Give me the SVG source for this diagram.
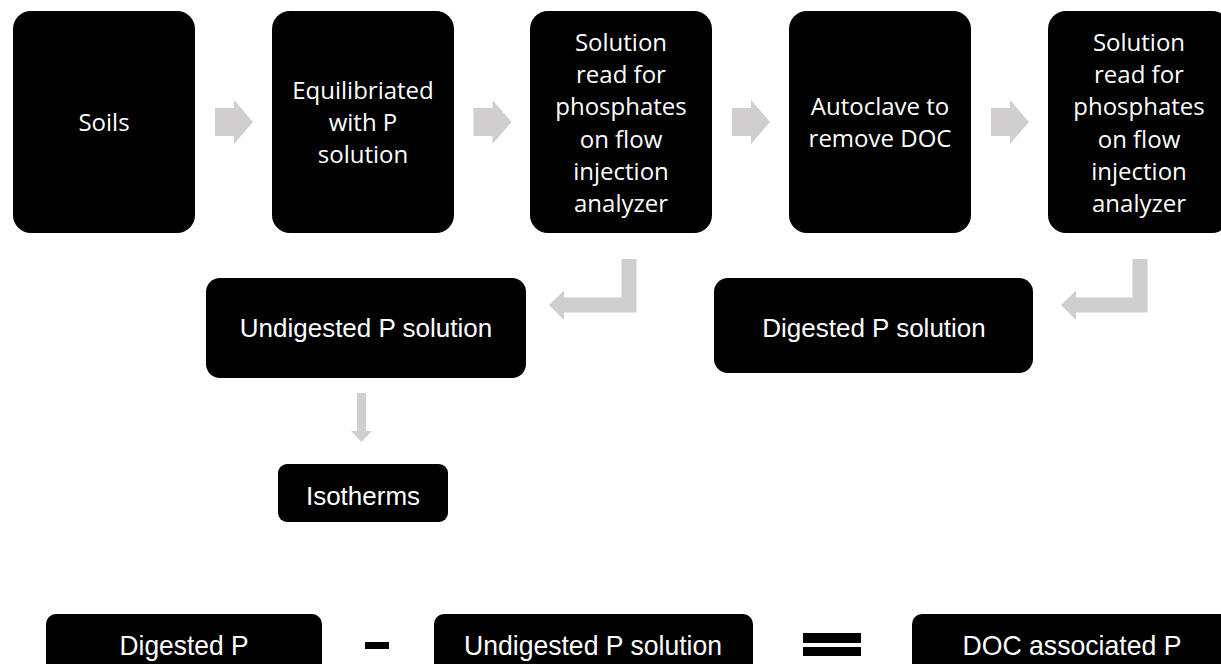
<svg xmlns="http://www.w3.org/2000/svg" width="1221" height="664" viewBox="0 0 1221 664">
<style>
.box{fill:#000000}
.t1{font-family:"Open Sans","Noto Sans",sans-serif;font-size:24px;fill:#ffffff;text-anchor:middle}
.t2{font-family:"Liberation Sans",Arial,sans-serif;font-size:26px;fill:#ffffff;text-anchor:middle}
.t3{font-family:"Liberation Sans",Arial,sans-serif;font-size:28px;fill:#ffffff;text-anchor:middle}
.arr{fill:#d0cece}
</style>
<rect width="1221" height="664" fill="#ffffff"/>
<g id="soils"><rect class="box" x="13" y="11" width="182" height="222" rx="18"/><text class="t1" x="104" y="131">Soils</text></g>
<g id="equilibriated"><rect class="box" x="272" y="11" width="182" height="222" rx="18"/><text class="t1" x="363"><tspan x="363" y="99">Equilibriated</tspan><tspan x="363" y="131">with P</tspan><tspan x="363" y="163">solution</tspan></text></g>
<g id="read1"><rect class="box" x="530" y="11" width="182" height="222" rx="18"/><text class="t1"><tspan x="621" y="51">Solution</tspan><tspan x="621" y="83">read for</tspan><tspan x="621" y="115">phosphates</tspan><tspan x="621" y="148">on flow</tspan><tspan x="621" y="180">injection</tspan><tspan x="621" y="212">analyzer</tspan></text></g>
<g id="autoclave"><rect class="box" x="789" y="11" width="182" height="222" rx="18"/><text class="t1"><tspan x="880" y="115">Autoclave to</tspan><tspan x="880" y="147">remove DOC</tspan></text></g>
<g id="read2"><rect class="box" x="1048" y="11" width="182" height="222" rx="18"/><text class="t1"><tspan x="1139" y="51">Solution</tspan><tspan x="1139" y="83">read for</tspan><tspan x="1139" y="115">phosphates</tspan><tspan x="1139" y="148">on flow</tspan><tspan x="1139" y="180">injection</tspan><tspan x="1139" y="212">analyzer</tspan></text></g>
<g id="undigested"><rect class="box" x="206" y="278" width="320" height="100" rx="14"/><text class="t2" x="366" y="337">Undigested P solution</text></g>
<g id="digested"><rect class="box" x="714" y="278" width="319" height="95" rx="14"/><text class="t2" x="874" y="337">Digested P solution</text></g>
<g id="isotherms"><rect class="box" x="278" y="464" width="170" height="58" rx="9"/><text class="t2" x="363" y="505">Isotherms</text></g>
<g id="eq-digested"><rect class="box" x="46" y="614" width="276" height="70" rx="10"/><text class="t3" x="184" y="655" textLength="129" lengthAdjust="spacingAndGlyphs">Digested P</text></g>
<g id="eq-minus"><rect class="box" x="365" y="642" width="24" height="7"/></g>
<g id="eq-undigested"><rect class="box" x="434" y="614" width="319" height="70" rx="10"/><text class="t3" x="593" y="655" textLength="258" lengthAdjust="spacingAndGlyphs">Undigested P solution</text></g>
<g id="eq-equals"><rect class="box" x="803" y="633" width="58" height="10"/><rect class="box" x="803" y="647" width="58" height="9"/></g>
<g id="eq-doc"><rect class="box" x="912" y="614" width="319" height="70" rx="10"/><text class="t3" x="1072" y="655" textLength="219" lengthAdjust="spacingAndGlyphs">DOC associated P</text></g>
<g id="connectors">
<polygon class="arr" points="215,108 234,108 234,100 253,122 234,144 234,136 215,136"/>
<polygon class="arr" points="473.5,108 492.5,108 492.5,100 511.5,122 492.5,144 492.5,136 473.5,136"/>
<polygon class="arr" points="732,108 751,108 751,100 770,122 751,144 751,136 732,136"/>
<polygon class="arr" points="991,108 1010,108 1010,100 1029,122 1010,144 1010,136 991,136"/>
<polygon class="arr" points="621.5,259 636.5,259 636.5,312.5 564,312.5 564,320 549,305 564,290.5 564,297.5 621.5,297.5"/>
<polygon class="arr" points="1132.5,259 1147.5,259 1147.5,312.5 1076,312.5 1076,320 1061,305 1076,290.5 1076,297.5 1132.5,297.5"/>
<polygon class="arr" points="357,393 366,393 366,431 372,431 361.5,442 351,431 357,431"/>
</g>
</svg>
